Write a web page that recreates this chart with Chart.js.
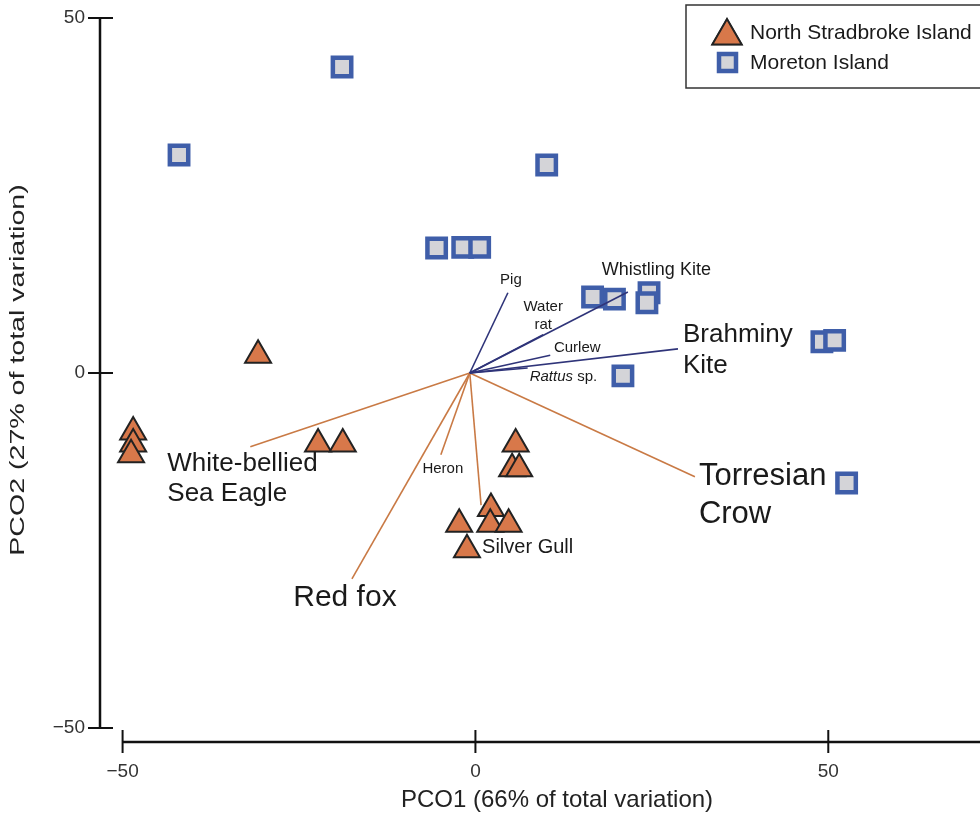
<!DOCTYPE html>
<html>
<head>
<meta charset="utf-8">
<script src="https://cdn.jsdelivr.net/npm/chart.js@4.4.1/dist/chart.umd.min.js"></script>
<style>
  html, body { margin: 0; padding: 0; background: #fff; }
  #wrap { width: 980px; height: 813px; position: relative; }
</style>
</head>
<body>
<div id="wrap"><canvas id="pcoChart" width="980" height="813"></canvas></div>
<script>
// Sample scores
const stradbrokeX = [-30.8, -48.5, -48.5, -48.8, -22.3, -18.8, 5.7, 5.2, 6.2, 2.2, -2.3, 2.1, 4.7, -1.2];
const stradbrokeY = [2.5, -8.3, -10.0, -11.5, -10.0, -10.0, -10.0, -13.5, -13.5, -19.1, -21.3, -21.3, -21.3, -24.9];
const moretonX = [-18.9, -42.0, 10.1, -5.5, -1.8, 0.6, 16.6, 19.7, 24.6, 24.3, 49.1, 50.9, 20.9, 52.6];
const moretonY = [43.1, 30.7, 29.3, 17.6, 17.7, 17.7, 10.7, 10.4, 11.3, 9.9, 4.4, 4.6, -0.4, -15.5];

// Species vectors (origin -> end point)
const vectorOrigin = { x: -0.8, y: 0 };
const vectorNames = ['Pig', 'Water rat', 'Whistling Kite', 'Curlew', 'Brahminy Kite', 'Rattus sp.',
                     'White-bellied Sea Eagle', 'Heron', 'Red fox', 'Silver Gull', 'Torresian Crow'];
const vectorX = [4.6, 9.6, 21.6, 10.6, 28.7, 7.4, -31.9, -4.9, -17.5, 0.8, 31.1];
const vectorY = [11.3, 5.4, 11.4, 2.5, 3.4, 0.7, -10.4, -11.5, -29.0, -18.6, -14.6];
const vectorGroup = ['moreton', 'moreton', 'moreton', 'moreton', 'moreton', 'moreton',
                     'stradbroke', 'stradbroke', 'stradbroke', 'stradbroke', 'stradbroke'];

const tickValues = [-50, 0, 50];
const tickLabels = ['\u221250', '0', '50'];
const seriesNames = ['North Stradbroke Island', 'Moreton Island'];

const FONT = '"Liberation Sans", Arial, Helvetica, sans-serif';
const orangeFill = '#d8784a';
const blueEdge = '#3f5ea9';
const greyFill = '#d4d4d8';
const navyLine = '#2f3479';
const orangeLine = '#c97a45';

// label placement for each vector, pixel offsets from the arrow tip
const vectorLabels = [
  { lines: ['Pig'], size: 15, align: 'center', dx: 3, dy: [-13] },
  { lines: ['Water', 'rat'], size: 15, align: 'center', dx: 0, dy: [-28, -10] },
  { lines: ['Whistling Kite'], size: 18, align: 'left', dx: -26, dy: [-22] },
  { lines: ['Curlew'], size: 15, align: 'center', dx: 27, dy: [-7] },
  { lines: ['Brahminy', 'Kite'], size: 26, align: 'left', dx: 5, dy: [-14, 17] },
  { lines: ['Rattus sp.'], size: 15, align: 'left', dx: 2, dy: [9], italicWord: 'Rattus' },
  { lines: ['White-bellied', 'Sea Eagle'], size: 26, align: 'left', dx: -83, dy: [17, 47] },
  { lines: ['Heron'], size: 15, align: 'center', dx: 2, dy: [14] },
  { lines: ['Red fox'], size: 30, align: 'center', dx: -7, dy: [19] },
  { lines: ['Silver Gull'], size: 20, align: 'left', dx: 1, dy: [42] },
  { lines: ['Torresian', 'Crow'], size: 31, align: 'left', dx: 4, dy: [0, 38] }
];

const stradbrokeData = stradbrokeX.map((x, i) => ({ x: x, y: stradbrokeY[i] }));
const moretonData = moretonX.map((x, i) => ({ x: x, y: moretonY[i] }));

const vectorDatasets = vectorNames.map((name, i) => ({
  type: 'line',
  label: name,
  data: [{ x: vectorOrigin.x, y: vectorOrigin.y }, { x: vectorX[i], y: vectorY[i] }],
  borderColor: vectorGroup[i] === 'moreton' ? navyLine : orangeLine,
  borderWidth: 1.6,
  pointRadius: 0,
  fill: false,
  order: 0
}));

// Axes, ticks, titles, vector labels and legend
const annotate = {
  id: 'annotate',
  beforeDatasetsDraw(chart) {
    const ctx = chart.ctx;
    const xs = chart.scales.x, ys = chart.scales.y;
    const axisX = chart.chartArea.left;
    const axisY = ys.getPixelForValue(-50) + 14;
    ctx.save();
    ctx.strokeStyle = '#111';
    ctx.lineWidth = 2.5;
    // y axis
    ctx.beginPath();
    ctx.moveTo(axisX, ys.getPixelForValue(50));
    ctx.lineTo(axisX, ys.getPixelForValue(-50));
    ctx.stroke();
    // x axis
    ctx.beginPath();
    ctx.moveTo(xs.getPixelForValue(-50), axisY);
    ctx.lineTo(chart.width, axisY);
    ctx.stroke();
    ctx.lineWidth = 2;
    ctx.fillStyle = '#333';
    ctx.font = '19px ' + FONT;
    tickValues.forEach((v, i) => {
      const py = ys.getPixelForValue(v);
      ctx.beginPath();
      ctx.moveTo(axisX - 12, py);
      ctx.lineTo(axisX + 13, py);
      ctx.stroke();
      ctx.textAlign = 'right';
      ctx.textBaseline = 'middle';
      ctx.fillText(tickLabels[i], axisX - 15, py);
      const px = xs.getPixelForValue(v);
      ctx.beginPath();
      ctx.moveTo(px, axisY - 12);
      ctx.lineTo(px, axisY + 11);
      ctx.stroke();
      ctx.textAlign = 'center';
      ctx.textBaseline = 'middle';
      ctx.fillText(tickLabels[i], px, axisY + 30);
    });
    // axis titles
    ctx.fillStyle = '#222';
    ctx.font = '24px ' + FONT;
    ctx.textAlign = 'center';
    ctx.textBaseline = 'middle';
    ctx.fillText('PCO1 (66% of total variation)', 557, 800);
    ctx.save();
    ctx.translate(18, 370);
    ctx.rotate(-Math.PI / 2);
    ctx.scale(1.36, 1);
    ctx.font = '21px ' + FONT;
    ctx.fillText('PCO2 (27% of total variation)', 0, 0);
    ctx.restore();
    ctx.restore();
  },
  afterDatasetsDraw(chart) {
    const ctx = chart.ctx;
    const xs = chart.scales.x, ys = chart.scales.y;
    ctx.save();
    ctx.fillStyle = '#1a1a1a';
    ctx.textBaseline = 'middle';
    vectorLabels.forEach((lab, i) => {
      const ex = xs.getPixelForValue(vectorX[i]);
      const ey = ys.getPixelForValue(vectorY[i]);
      lab.lines.forEach((line, j) => {
        const tx = ex + lab.dx, ty = ey + lab.dy[j];
        ctx.textAlign = lab.align;
        if (lab.italicWord && line.startsWith(lab.italicWord)) {
          ctx.textAlign = 'left';
          ctx.font = 'italic ' + lab.size + 'px ' + FONT;
          ctx.fillText(lab.italicWord, tx, ty);
          const w = ctx.measureText(lab.italicWord).width;
          ctx.font = lab.size + 'px ' + FONT;
          ctx.fillText(line.slice(lab.italicWord.length), tx + w, ty);
        } else {
          ctx.font = lab.size + 'px ' + FONT;
          ctx.fillText(line, tx, ty);
        }
      });
    });
    // legend box
    ctx.strokeStyle = '#333';
    ctx.lineWidth = 1.5;
    ctx.fillStyle = '#fff';
    ctx.fillRect(686, 5, 300, 83);
    ctx.strokeRect(686, 5, 300, 83);
    Chart.helpers.drawPoint(ctx, { pointStyle: 'triangle', radius: 17, borderWidth: 2 }, 727, 36);
    ctx.fillStyle = orangeFill; ctx.strokeStyle = '#222'; ctx.lineWidth = 2;
    ctx.fill(); ctx.stroke();
    ctx.fillStyle = greyFill; ctx.strokeStyle = blueEdge; ctx.lineWidth = 4.5;
    ctx.beginPath();
    ctx.rect(719, 54, 17, 17);
    ctx.fill(); ctx.stroke();
    ctx.fillStyle = '#1a1a1a';
    ctx.font = '21px ' + FONT;
    ctx.textAlign = 'left';
    ctx.fillText(seriesNames[0], 750, 33);
    ctx.fillText(seriesNames[1], 750, 63);
    ctx.restore();
  }
};

const ctx = document.getElementById('pcoChart').getContext('2d');
const pcoChart = new Chart(ctx, {
  type: 'scatter',
  data: {
    datasets: vectorDatasets.concat([
      {
        label: seriesNames[0],
        data: stradbrokeData,
        pointStyle: 'triangle',
        pointRadius: 15,
        pointHoverRadius: 15,
        backgroundColor: orangeFill,
        borderColor: '#222',
        borderWidth: 2,
        order: 1
      },
      {
        label: seriesNames[1],
        data: moretonData,
        pointStyle: 'rect',
        pointRadius: 13,
        pointHoverRadius: 13,
        backgroundColor: greyFill,
        borderColor: blueEdge,
        borderWidth: 4.5,
        order: 1
      }
    ])
  },
  options: {
    responsive: false,
    animation: false,
    layout: { autoPadding: false, padding: { left: 100, right: 0, top: 18, bottom: 85 } },
    scales: {
      x: { type: 'linear', min: -53.2, max: 71.5, display: false },
      y: { type: 'linear', min: -50, max: 50, display: false }
    },
    plugins: {
      legend: { display: false },
      tooltip: { enabled: false }
    }
  },
  plugins: [annotate]
});
</script>
</body>
</html>
